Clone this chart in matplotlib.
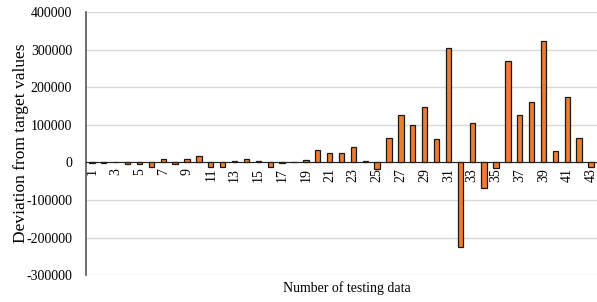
import numpy as np
import matplotlib
matplotlib.use('Agg')
import matplotlib.pyplot as plt

# 테스트 데이터 번호와 목표값 대비 편차
test_no = list(range(1, 44))
deviation = [-2000, -2000, 2000, -5000, -5000, -12000, 10000, -5000, 10000, 18000,
             -12000, -12000, 3000, 10000, 3000, -12000, -2000, 1000, 7000, 33000,
             24000, 26000, 41000, 5000, -17000, 65000, 125000, 100000, 147000, 62000,
             305000, -226000, 105000, -68000, -15000, 270000, 125000, 160000, 322000, 30000,
             175000, 65000, -12000]
y_ticks = [-300000, -200000, -100000, 0, 100000, 200000, 300000, 400000]

plt.rcParams['font.family'] = ['Liberation Serif', 'DejaVu Serif']

fig = plt.figure(figsize=(5.97, 3.02), dpi=100)
ax = fig.add_axes([0.144, 0.089, 0.856, 0.871])

ax.bar(test_no, deviation, width=0.45, color='#ED7D31', edgecolor='#1a1a1a', linewidth=0.9, zorder=3)

ax.set_xlim(0.5, 43.5)
ax.set_ylim(-300000, 400000)
ax.set_yticks(y_ticks)
ax.set_yticklabels([str(v) for v in y_ticks], fontsize=10)
ax.set_xticks(test_no[::2])
ax.set_xticklabels([str(v) for v in test_no[::2]], fontsize=10)

ax.grid(axis='y', color='#d9d9d9', linewidth=1.0, zorder=0)
ax.tick_params(axis='both', length=0)
ax.tick_params(axis='y', pad=10)
ax.tick_params(axis='x', pad=4, labelrotation=90)

# 0 위치에 x축
ax.spines['bottom'].set_position(('data', 0))
ax.spines['bottom'].set_color('#222222')
ax.spines['bottom'].set_zorder(4)
ax.spines['left'].set_color('#555555')
ax.spines['left'].set_linewidth(1.2)
ax.spines['top'].set_visible(False)
ax.spines['right'].set_visible(False)

ax.set_ylabel('Deviation from target values', fontsize=12.5)
ax.yaxis.set_label_coords(-0.112, 0.5)
ax.set_xlabel('Number of testing data', fontsize=10)
ax.xaxis.set_label_coords(0.51, -0.025)

plt.savefig('out.png', dpi=100)
